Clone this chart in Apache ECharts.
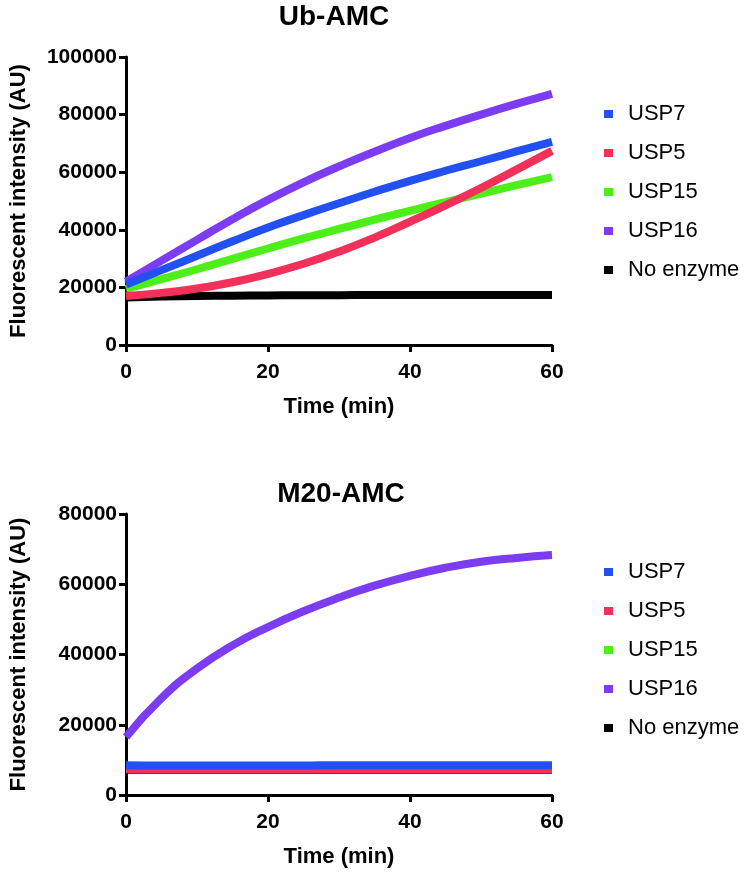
<!DOCTYPE html>
<html>
<head>
<meta charset="utf-8">
<script src="https://cdn.jsdelivr.net/npm/echarts@6/dist/echarts.min.js"></script>
<style>
html,body{margin:0;padding:0;background:#fff;}
#c{width:746px;height:874px;}
</style>
</head>
<body>
<div id="c"></div>
<script>
// ---- data ----
const times = [0, 5, 10, 15, 20, 25, 30, 35, 40, 45, 50, 55, 60];
const seriesNames = ['USP7', 'USP5', 'USP15', 'USP16', 'No enzyme'];
const xTicks = [0, 20, 40, 60];
const yTicksTop = [0, 20000, 40000, 60000, 80000, 100000];
const yTicksBottom = [0, 20000, 40000, 60000, 80000];

// Ub-AMC
const ubUSP7  = [21000, 26000, 31000, 36000, 40800, 45100, 49200, 53200, 57000, 60500, 63800, 67200, 70500];
const ubUSP5  = [17000, 18100, 19600, 21800, 24700, 28200, 32400, 37300, 42800, 48500, 54500, 60900, 67400];
const ubUSP15 = [19500, 22900, 26300, 29900, 33500, 37000, 40300, 43500, 46600, 49600, 52600, 55500, 58300];
const ubUSP16 = [22000, 29300, 36500, 43700, 50400, 56500, 62000, 67100, 71900, 76100, 80000, 83700, 87200];
const ubNoEnz = [16500, 16800, 17000, 17100, 17200, 17300, 17300, 17400, 17400, 17400, 17400, 17400, 17400];

// M20-AMC
const m20USP7  = [8500, 8400, 8400, 8400, 8400, 8400, 8500, 8500, 8500, 8500, 8500, 8500, 8500];
const m20USP5  = [7300, 7300, 7300, 7300, 7300, 7300, 7300, 7300, 7300, 7300, 7300, 7300, 7300];
const m20USP15 = [7400, 7400, 7400, 7400, 7400, 7400, 7400, 7400, 7400, 7400, 7400, 7400, 7400];
const m20USP16 = [16500, 27600, 36000, 42600, 47800, 52300, 56200, 59600, 62400, 64700, 66400, 67500, 68300];
const m20NoEnz = [7200, 7200, 7200, 7200, 7200, 7200, 7200, 7200, 7200, 7200, 7200, 7200, 7200];

const colors = {
  'USP7': '#2350f2',
  'USP5': '#f2305a',
  'USP15': '#4cf018',
  'USP16': '#7b3cf2',
  'No enzyme': '#000000'
};

const pairs = (vals) => times.map((t, i) => [t, vals[i]]);
const FONT = '"Liberation Sans", Arial, sans-serif';

function mkSeries(name, vals, idx) {
  return {
    name: name,
    type: 'line',
    xAxisIndex: idx, yAxisIndex: idx,
    data: pairs(vals),
    smooth: 0.5,
    showSymbol: false,
    symbol: 'rect',
    lineStyle: { width: 8, color: colors[name] },
    itemStyle: { color: colors[name] },
    animation: false
  };
}

function xAxisCfg(idx) {
  return {
    type: 'value', gridIndex: idx, min: 0, max: 60, interval: 20,
    name: 'Time (min)', nameLocation: 'middle', nameGap: 51,
    nameTextStyle: { fontFamily: FONT, fontWeight: 'bold', fontSize: 22, color: '#000' },
    axisLine: { show: true, lineStyle: { color: '#000', width: 3 } },
    axisTick: { show: true, length: 7, lineStyle: { color: '#000', width: 3 } },
    axisLabel: { fontFamily: FONT, fontWeight: 'bold', fontSize: 21, color: '#000', margin: 17 },
    splitLine: { show: false }
  };
}
function yAxisCfg(idx, max) {
  return {
    type: 'value', gridIndex: idx, min: 0, max: max, interval: 20000,
    name: 'Fluorescent intensity (AU)', nameLocation: 'middle', nameGap: 96, nameRotate: 90,
    nameTextStyle: { fontFamily: FONT, fontWeight: 'bold', fontSize: 22, color: '#000' },
    axisLine: { show: true, lineStyle: { color: '#000', width: 3 } },
    axisTick: { show: true, length: 7, lineStyle: { color: '#000', width: 3 } },
    axisLabel: { fontFamily: FONT, fontWeight: 'bold', fontSize: 21, color: '#000', margin: 9,
      formatter: (v) => String(v) },
    splitLine: { show: false }
  };
}
function legendCfg(idx, top) {
  return {
    orient: 'vertical', left: 599, top: top,
    data: seriesNames,
    icon: 'rect', itemWidth: 9, itemHeight: 8, itemGap: 15,
    textStyle: { fontFamily: FONT, fontSize: 22, color: '#000', lineHeight: 24, padding: [0, 0, 0, 10] },
    selectedMode: false
  };
}

const drawOrder = ['No enzyme', 'USP15', 'USP5', 'USP16', 'USP7'];
const topData = { 'USP7': ubUSP7, 'USP5': ubUSP5, 'USP15': ubUSP15, 'USP16': ubUSP16, 'No enzyme': ubNoEnz };
const botData = { 'USP7': m20USP7, 'USP5': m20USP5, 'USP15': m20USP15, 'USP16': m20USP16, 'No enzyme': m20NoEnz };

const series = [];
drawOrder.forEach(n => series.push(mkSeries(n, topData[n], 0)));
drawOrder.forEach(n => series.push(mkSeries(n, botData[n], 1)));

const chart = echarts.init(document.getElementById('c'), null, { renderer: 'canvas' });
chart.setOption({
  backgroundColor: '#fff',
  animation: false,
  title: [
    { text: 'Ub-AMC', left: 329, top: -2, textAlign: 'center',
      textStyle: { fontFamily: FONT, fontWeight: 'bold', fontSize: 28, color: '#000' } },
    { text: 'M20-AMC', left: 336, top: 475, textAlign: 'center',
      textStyle: { fontFamily: FONT, fontWeight: 'bold', fontSize: 28, color: '#000' } }
  ],
  legend: [legendCfg(0, 97), legendCfg(1, 555)],
  grid: [
    { left: 120, top: 57, width: 432, height: 288, containLabel: false },
    { left: 120, top: 514, width: 432, height: 281, containLabel: false }
  ],
  xAxis: [xAxisCfg(0), xAxisCfg(1)],
  yAxis: [yAxisCfg(0, 100000), yAxisCfg(1, 80000)],
  series: series
});
</script>
</body>
</html>
